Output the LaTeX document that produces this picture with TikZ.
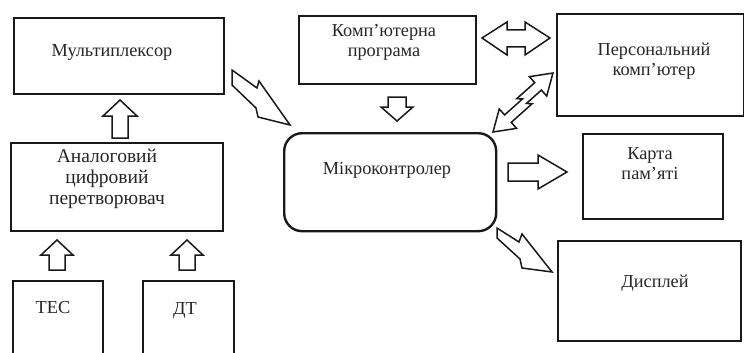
\documentclass[tikz,border=0pt]{standalone}
\usepackage{fontspec}
\setmainfont{Liberation Serif}
\begin{document}
\begin{tikzpicture}[x=1pt,y=1pt,
  box/.style={draw=black!90, line width=2.4pt, anchor=north west, inner sep=0pt},
  lbl/.style={font=\fontsize{18.3}{20}\selectfont, align=center, inner sep=0pt, text=black!85},
  barrow/.style={draw=black!90, line width=1.5pt, fill=white, line join=miter}]
\useasboundingbox (0,0) rectangle (744,-353);
% boxes
\node[box, minimum width=210pt, minimum height=76pt] (mux) at (13,-17) {};
\node[box, minimum width=177pt, minimum height=68pt] (prog) at (298,-15) {};
\node[box, minimum width=187pt, minimum height=102pt] (pc) at (556,-13) {};
\node[box, minimum width=212pt, minimum height=88pt] (adc) at (10,-142) {};
\node[box, rounded corners=18pt, minimum width=212pt, minimum height=98pt] (mc) at (283,-132) {};
\node[box, minimum width=140pt, minimum height=85pt] (karta) at (582,-133) {};
\node[box, minimum width=183pt, minimum height=100pt] (disp) at (557,-240) {};
\node[box, minimum width=90pt, minimum height=85pt] (tec) at (12,-280) {};
\node[box, minimum width=91pt, minimum height=85pt] (dt) at (142,-280) {};
% labels
\node[lbl] (muxt) at (112,-52) {Мультиплексор};
\node[lbl] (progt) at (384,-42) {Комп’ютерна\\програма};
\node[lbl] (pct) at (654,-61) {Персональний\\комп’ютер};
\node[lbl, font=\fontsize{19.5}{21}\selectfont] (adct) at (107,-179) {Аналоговий\\цифровий\\перетворювач};
\node[lbl] (mct) at (387,-170) {Мікроконтролер};
\node[lbl] (kartat) at (650,-164) {Карта\\пам’яті};
\node[lbl] (dispt) at (655,-283) {Дисплей};
\node[lbl] (tect) at (53,-308) {ТЕС};
\node[lbl] (dtt) at (185,-310) {ДТ};
% block arrows
\draw[barrow] (120,-100) -- (137,-116) -- (128,-116) -- (128,-138) -- (112,-138) -- (112,-116) -- (103,-116) -- cycle;
\draw[barrow] (57,-240) -- (73,-255) -- (65,-255) -- (65,-270) -- (49,-270) -- (49,-255) -- (41,-255) -- cycle;
\draw[barrow] (187,-240) -- (203,-255) -- (195,-255) -- (195,-270) -- (179,-270) -- (179,-255) -- (171,-255) -- cycle;
\draw[barrow] (388,-97) -- (406,-97) -- (406,-107) -- (413,-107) -- (397,-121) -- (381,-107) -- (388,-107) -- cycle;
\draw[barrow] (508,-163) -- (538,-163) -- (538,-155) -- (567,-172) -- (538,-189) -- (538,-181) -- (508,-181) -- cycle;
\draw[barrow] (482,-38) -- (507,-22) -- (507,-30) -- (525,-30) -- (525,-22) -- (550,-38) -- (525,-55) -- (525,-47) -- (507,-47) -- (507,-55) -- cycle;
% lightning arrows
\draw[barrow] (232,-70) -- (257,-88) -- (259,-81) -- (290,-125) -- (258,-117) -- (256,-108) -- (232,-85) -- cycle;
\draw[barrow] (497,-228) -- (519,-242) -- (522,-234) -- (552,-272) -- (522,-268) -- (520,-259) -- (497,-238) -- cycle;
\begin{scope}[shift={(493,-132)}, rotate=41.8]
\draw[barrow] (0,0) -- (20,13) -- (20,5) -- (44,5) -- (40,9) -- (64,9) -- (64,17) -- (84,4) -- (64,-9) -- (64,-1) -- (44,-1) -- (48,-5) -- (20,-5) -- (20,-13) -- cycle;
\end{scope}
\end{tikzpicture}
\end{document}
